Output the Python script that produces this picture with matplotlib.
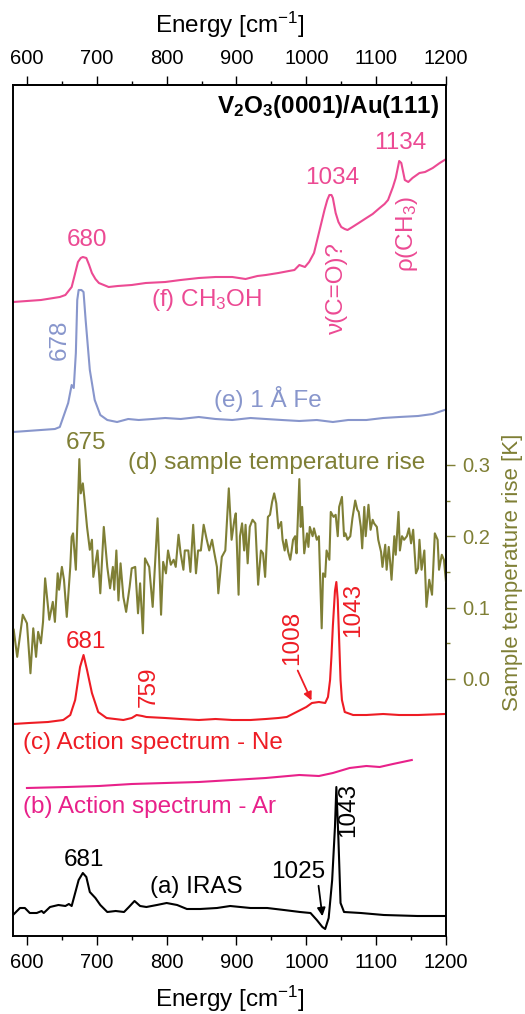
import numpy as np
import matplotlib
matplotlib.use("Agg")
import matplotlib.pyplot as plt
from matplotlib.ticker import FixedLocator, FormatStrFormatter

plt.rcParams['font.family'] = ['Liberation Sans', 'DejaVu Sans']
plt.rcParams['mathtext.fontset'] = 'custom'
plt.rcParams['mathtext.rm'] = 'Liberation Sans'
plt.rcParams['mathtext.it'] = 'Liberation Sans:italic'
plt.rcParams['mathtext.bf'] = 'Liberation Sans:bold'

# stacked spectra, arbitrary units (offsets already included)
E_f = [580, 600, 620, 647, 655, 664, 668, 673, 677, 680, 685, 689, 693, 698, 703, 710, 717, 730, 750,
       770, 798, 820, 846, 870, 894, 913, 930, 942, 960, 975, 983, 990, 998, 1004, 1011, 1018, 1026,
       1030, 1033, 1036, 1038, 1042, 1046, 1050, 1055, 1059, 1066, 1075, 1086, 1095, 1105, 1112, 1117,
       1124, 1128, 1133, 1136, 1141, 1146, 1152, 1162, 1170, 1181, 1191, 1198]
I_f = [634, 635, 636, 639, 641, 649, 660, 674, 678, 679, 678, 671, 663, 657, 653, 651, 649, 650, 651,
       653, 654, 656, 658, 659, 659, 657, 660, 661, 663, 665, 666, 671, 669, 674, 683, 703, 726,
       736, 741, 741, 738, 723, 714, 709, 707, 706, 709, 713, 718, 722, 728, 732, 736,
       749, 758, 775, 773, 756, 754, 758, 763, 764, 768, 773, 776]

E_e = [580, 600, 620, 640, 647, 652, 659, 664, 667, 670, 672, 674, 678, 681, 684, 690, 697, 705,
       715, 729, 745, 760, 780, 798, 820, 846, 870, 894, 920, 942, 965, 990, 1015, 1038, 1060, 1086,
       1110, 1133, 1160, 1181, 1198]
I_e = [504, 505, 506, 507, 509, 519, 533, 551, 548, 583, 636, 646, 646, 644, 616, 566, 536, 521,
       516, 514, 517, 516, 517, 518, 517, 519, 517, 516, 518, 517, 516, 515, 516, 514, 516, 516,
       518, 519, 520, 522, 526]

E_c = [580, 603, 630, 652, 662, 669, 676, 681, 686, 693, 702, 714, 738, 750, 757, 765, 771, 798, 820,
       846, 870, 894, 920, 942, 960, 972, 986, 1000, 1008, 1018, 1027, 1031, 1034, 1036, 1038, 1041,
       1043, 1045, 1047, 1049, 1051, 1055, 1067, 1086, 1110, 1133, 1160, 1198]
I_c = [212, 213, 214, 216, 221, 236, 269, 281, 266, 243, 224, 218, 216, 218, 221, 220, 219, 218, 217,
       216, 217, 216, 216, 217, 218, 219, 224, 229, 233, 234, 233, 239, 256, 280, 310, 345,
       354, 336, 296, 256, 236, 224, 221, 221, 222, 221, 221, 222]

E_b = [600, 657, 703, 750, 798, 846, 894, 942, 990, 1018, 1038, 1062, 1086, 1105, 1124, 1151]
I_b = [148, 149, 150, 152, 153, 154, 156, 158, 161, 160, 163, 168, 170, 169, 172, 176]

E_a = [580, 590, 597, 604, 614, 621, 624, 633, 645, 655, 660, 664, 669, 674, 680, 685, 690, 698, 705,
       715, 727, 739, 746, 754, 762, 771, 786, 800, 815, 829, 848, 872, 891, 920, 944, 968, 991, 1006,
       1015, 1023, 1027, 1032, 1037, 1041, 1043, 1046, 1049, 1054, 1078, 1111, 1159, 1199]
I_a = [21, 28, 28, 23, 23, 25, 23, 29, 31, 30, 32, 30, 43, 56, 63, 59, 44, 38, 31,
       24, 25, 24, 29, 35, 30, 29, 31, 33, 31, 27, 27, 28, 30, 28, 28, 26, 24, 23,
       16, 9, 7, 18, 56, 109, 149, 96, 33, 24, 23, 21, 20, 20]

# sample temperature rise [K], right axis
E_d = [581, 586, 594, 600, 605, 609, 613, 616, 620, 623, 626, 632, 637, 640, 644, 646, 650, 653, 657,
       662, 664, 666, 670, 675, 677, 680, 682, 686, 690, 693, 695, 701, 705, 710, 715, 719, 723, 725,
       728, 731, 734, 738, 742, 747, 750, 755, 759, 762, 766, 769, 775, 780, 784, 787, 790, 792, 795,
       799, 802, 806, 810, 813, 817, 820, 824, 826, 831, 834, 838, 842, 845, 849, 853, 857, 861, 865,
       868, 872, 874, 879, 884, 889, 893, 897, 899, 903, 905, 908, 911, 913, 916, 919, 923, 927, 931,
       935, 938, 941, 945, 948, 951, 954, 957, 960, 964, 966, 969, 971, 974, 977, 979, 981, 984, 986,
       990, 992, 994, 997, 1001, 1003, 1005, 1009, 1011, 1015, 1018, 1022, 1024, 1027, 1029, 1033,
       1035, 1039, 1042, 1045, 1047, 1051, 1054, 1056, 1059, 1063, 1066, 1070, 1073, 1075, 1078, 1080,
       1083, 1085, 1089, 1092, 1095, 1097, 1101, 1103, 1107, 1109, 1113, 1115, 1118, 1120, 1122, 1126,
       1128, 1132, 1134, 1137, 1140, 1144, 1147, 1150, 1153, 1157, 1160, 1162, 1165, 1169, 1172, 1176,
       1180, 1184, 1188, 1190, 1194, 1197, 1200]
T_d = [0.069, 0.031, 0.090, 0.078, 0.008, 0.071, 0.031, 0.066, 0.050, 0.080, 0.141, 0.083, 0.108,
       0.080, 0.148, 0.125, 0.157, 0.139, 0.087, 0.157, 0.199, 0.204, 0.153, 0.308, 0.260, 0.274,
       0.255, 0.213, 0.181, 0.195, 0.143, 0.180, 0.120, 0.213, 0.157, 0.127, 0.157, 0.125, 0.180,
       0.110, 0.162, 0.115, 0.094, 0.129, 0.155, 0.157, 0.092, 0.134, 0.064, 0.169, 0.157, 0.101,
       0.171, 0.225, 0.148, 0.090, 0.164, 0.148, 0.180, 0.160, 0.167, 0.157, 0.202, 0.176, 0.153,
       0.180, 0.180, 0.150, 0.216, 0.148, 0.180, 0.180, 0.216, 0.197, 0.180, 0.195, 0.178, 0.157,
       0.120, 0.171, 0.180, 0.267, 0.195, 0.223, 0.232, 0.118, 0.200, 0.218, 0.180, 0.216, 0.162,
       0.213, 0.223, 0.218, 0.132, 0.180, 0.176, 0.143, 0.227, 0.230, 0.248, 0.260, 0.246, 0.211,
       0.220, 0.195, 0.180, 0.195, 0.178, 0.167, 0.180, 0.195, 0.200, 0.176, 0.280, 0.213, 0.241,
       0.176, 0.204, 0.185, 0.213, 0.200, 0.211, 0.195, 0.200, 0.071, 0.148, 0.143, 0.180, 0.167,
       0.234, 0.227, 0.230, 0.200, 0.241, 0.255, 0.200, 0.204, 0.195, 0.200, 0.225, 0.250, 0.237,
       0.234, 0.213, 0.183, 0.241, 0.200, 0.244, 0.209, 0.223, 0.218, 0.213, 0.195, 0.178, 0.157,
       0.188, 0.153, 0.185, 0.164, 0.139, 0.200, 0.174, 0.234, 0.180, 0.200, 0.195, 0.200, 0.211,
       0.190, 0.209, 0.148, 0.155, 0.195, 0.153, 0.180, 0.101, 0.139, 0.118, 0.204, 0.195, 0.153,
       0.174, 0.167, 0.136]

X_TICKS = [600, 700, 800, 900, 1000, 1100, 1200]
X_MINOR = [650, 750, 850, 950, 1050, 1150]
T_TICKS = [0.0, 0.1, 0.2, 0.3]
T_MINOR = [0.05, 0.15, 0.25]

PINK = '#ec4a93'
LAVENDER = '#8896cc'
OLIVE = '#7f7f35'
RED = '#ee1c24'
MAGENTA = '#e8218a'

fig = plt.figure(figsize=(5.25, 10.14), dpi=100)
ax = fig.add_axes([13 / 525, 1 - 936 / 1014, 433 / 525, 851 / 1014])
ax2 = ax.twinx()

lw = 1.5
ax.plot(E_f, I_f, color=PINK, lw=lw)
ax.plot(E_e, I_e, color=LAVENDER, lw=lw)
ax.plot(E_c, I_c, color=RED, lw=lw)
ax.plot(E_b, I_b, color=MAGENTA, lw=lw)
ax.plot(E_a, I_a, color='black', lw=lw)
ax2.plot(E_d, T_d, color=OLIVE, lw=lw)

ax.set_xlim(580, 1200)
ax.set_ylim(0, 851)
ax2.set_ylim(-0.36, 0.832)

fs = 17.5
# (f) methanol
ax.text(686, 696, '680', color=PINK, fontsize=fs, ha='center', va='center')
ax.text(1037, 758, '1034', color=PINK, fontsize=fs, ha='center', va='center')
ax.text(1134, 793, '1134', color=PINK, fontsize=fs, ha='center', va='center')
ax.text(1044, 648, 'ν(C=O)?', color=PINK, fontsize=fs, ha='center', va='center', rotation=90)
ax.text(1144, 702, 'ρ(CH$_3$)', color=PINK, fontsize=fs, ha='center', va='center', rotation=90)
ax.text(858, 636, '(f) CH$_3$OH', color=PINK, fontsize=fs, ha='center', va='center')
# (e) Fe
ax.text(647, 596, '678', color=LAVENDER, fontsize=fs, ha='center', va='center', rotation=90)
ax.text(945, 537, '(e) 1 Å Fe', color=LAVENDER, fontsize=fs, ha='center', va='center')
# (d) temperature
ax.text(685, 493, '675', color=OLIVE, fontsize=fs, ha='center', va='center')
ax.text(957, 473, '(d) sample temperature rise', color=OLIVE, fontsize=fs, ha='center', va='center')
# (c) Ne
ax.text(684, 294, '681', color=RED, fontsize=fs, ha='center', va='center')
ax.text(774, 249, '759', color=RED, fontsize=fs, ha='center', va='center', rotation=90)
ax.text(979, 298, '1008', color=RED, fontsize=fs, ha='center', va='center', rotation=90)
ax.text(1067, 326, '1043', color=RED, fontsize=fs, ha='center', va='center', rotation=90)
ax.annotate('', xy=(1009, 233), xytext=(986, 268),
            arrowprops=dict(arrowstyle='-|>', color=RED, lw=1.3, mutation_scale=12))
ax.text(594, 193, '(c) Action spectrum - Ne', color=RED, fontsize=fs, ha='left', va='center')
# (b) Ar
ax.text(594, 129, '(b) Action spectrum - Ar', color=MAGENTA, fontsize=fs, ha='left', va='center')
# (a) IRAS
ax.text(681, 76, '681', color='black', fontsize=fs, ha='center', va='center')
ax.text(843, 49, '(a) IRAS', color='black', fontsize=fs, ha='center', va='center')
ax.text(989, 64, '1025', color='black', fontsize=fs, ha='center', va='center')
ax.text(1060, 126, '1043', color='black', fontsize=fs, ha='center', va='center', rotation=90)
ax.annotate('', xy=(1023.5, 17), xytext=(1017, 53),
            arrowprops=dict(arrowstyle='-|>', color='black', lw=1.3, mutation_scale=12))

ax.text(1191, 829, r'V$_\mathbf{2}$O$_\mathbf{3}$(0001)/Au(111)', fontsize=fs,
        fontweight='bold', ha='right', va='center')

# axes styling
ax.set_yticks([])
for xa, side in ((ax, 'bottom'), (ax.secondary_xaxis('top'), 'top')):
    xa.xaxis.set_major_locator(FixedLocator(X_TICKS))
    xa.xaxis.set_minor_locator(FixedLocator(X_MINOR))
    xa.tick_params(axis='x', which='major', direction='out', length=6.5, width=1, labelsize=14.5, pad=6)
    xa.tick_params(axis='x', which='minor', direction='out', length=3, width=1)
    xa.set_xlabel('Energy [cm$^{-1}$]', fontsize=fs, labelpad=8 if side == 'bottom' else 11)
    xa.spines[side].set_linewidth(1.2)

ax2.yaxis.set_major_locator(FixedLocator(T_TICKS))
ax2.yaxis.set_minor_locator(FixedLocator(T_MINOR))
ax2.yaxis.set_major_formatter(FormatStrFormatter('%.1f'))
ax2.tick_params(axis='y', which='major', direction='out', length=6.5, width=1, colors=OLIVE,
                labelsize=14.5, pad=5)
ax2.tick_params(axis='y', which='minor', direction='out', length=3, width=1, colors=OLIVE)
ax2.set_ylabel('Sample temperature rise [K]', color=OLIVE, fontsize=16)
ax2.yaxis.set_label_coords(1.13, (936 - 572) / 851)

for a in (ax, ax2):
    for s in a.spines.values():
        s.set_linewidth(1.2)
        s.set_color('black')

fig.savefig('out.png', dpi=100)
